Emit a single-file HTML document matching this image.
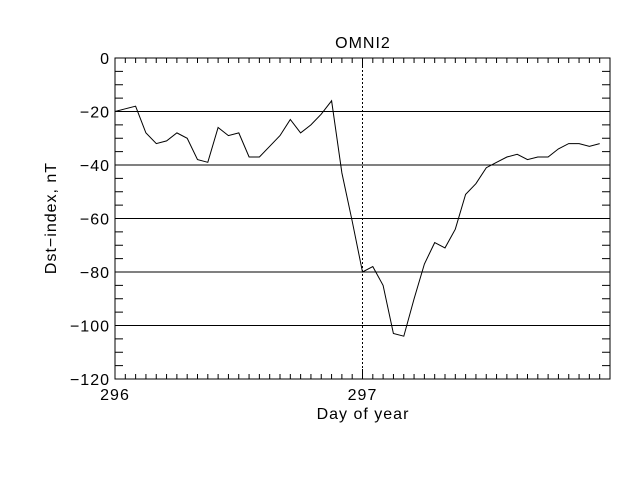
<!DOCTYPE html>
<html><head><meta charset="utf-8"><style>
body{margin:0;background:#fff;}
svg text{font-family:"Liberation Sans",sans-serif;font-size:16px;letter-spacing:1px;fill:#000;}
</style></head><body>
<svg id="chart" width="640" height="480" xmlns="http://www.w3.org/2000/svg">
<rect width="640" height="480" fill="#fff"/>
<g id="grid"></g><g id="axes"></g><g id="series"></g>
</svg>
<script>
const dayStart = 296;
const dayEnd = 298;
const yTicks = [0, -20, -40, -60, -80, -100, -120];
const xTickLabels = ["296", "297"];
const hours = [0,1,2,3,4,5,6,7,8,9,10,11,12,13,14,15,16,17,18,19,20,21,22,23,24,25,26,27,28,29,30,31,32,33,34,35,36,37,38,39,40,41,42,43,44,45,46,47];
const dst = [-20,-19,-18,-28,-32,-31,-28,-30,-38,-39,-26,-29,-28,-37,-37,-33,-29,-23,-28,-25,-21,-16,-43,-61,-80,-78,-85,-103,-104,-90,-77,-69,-71,-64,-51,-47,-41,-39,-37,-36,-38,-37,-37,-34,-32,-32,-33,-32];

const L=115,R=610,T=58,B=379,NS="http://www.w3.org/2000/svg";
const xS=d=>L+(d-dayStart)/(dayEnd-dayStart)*(R-L);
const yS=v=>T+(0-v)/120*(B-T);
function mk(tag,attrs,parent){const e=document.createElementNS(NS,tag);for(const k in attrs)e.setAttribute(k,attrs[k]);document.getElementById(parent).appendChild(e);return e;}

yTicks.forEach(v=>{ if(v===0||v===-120) return;
  const g=mk('line',{x1:L,x2:R,y1:yS(v),y2:yS(v),stroke:'#000','stroke-width':1},'grid');
  
  
});
const vd=mk('line',{x1:xS(297),x2:xS(297),y1:T,y2:B,stroke:'#000','stroke-width':1,'stroke-dasharray':'2,2'},'grid');



const fr=mk('rect',{x:L,y:T,width:R-L,height:B-T,fill:'none',stroke:'#000','stroke-width':1},'axes');



for(let v=0;v>=-120;v-=5){const y=yS(v),len=8;
  mk('line',{x1:L,x2:L+len,y1:y,y2:y,stroke:'#000'},'axes');
  mk('line',{x1:R,x2:R-len,y1:y,y2:y,stroke:'#000'},'axes');}
yTicks.forEach(v=>{const t=mk('text',{x:110,y:yS(v)+6,'text-anchor':'end'},'axes');t.textContent=String(v).replace('-','\u2212');
  
  });
for(let h=0;h<=48;h++){const x=xS(dayStart+h/24),len=(h%24===0)?10:5;
  mk('line',{x1:x,x2:x,y1:B,y2:B-len,stroke:'#000'},'axes');
  mk('line',{x1:x,x2:x,y1:T,y2:T+len,stroke:'#000'},'axes');}
xTickLabels.forEach(s=>{const t=mk('text',{x:xS(+s),y:400,'text-anchor':'middle'},'axes');t.textContent=s;
  
  });
const xt=mk('text',{x:363,y:419,'text-anchor':'middle'},'axes');xt.textContent='Day of year';


const yt=mk('text',{x:0,y:0,'text-anchor':'middle',transform:'translate(56,218) rotate(-90)'},'axes');yt.textContent='Dst\u2212index, nT';


const tt=mk('text',{x:363,y:48,'text-anchor':'middle'},'axes');tt.textContent='OMNI2';



const pts=hours.map((h,i)=>xS(dayStart+h/24).toFixed(1)+','+yS(dst[i]).toFixed(1)).join(' ');
const pl=mk('polyline',{points:pts,fill:'none',stroke:'#000','stroke-width':1},'series');


</script>
</body></html>
